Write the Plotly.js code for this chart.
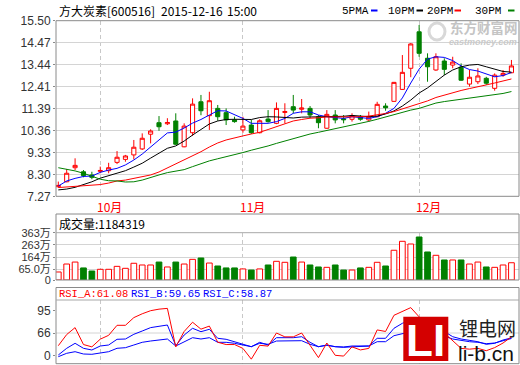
<!DOCTYPE html>
<html><head><meta charset="utf-8">
<script src="https://cdn.plot.ly/plotly-3.0.1.min.js"></script>
<style>html,body{margin:0;padding:0;background:#fff;}#chart{width:520px;height:365px;}</style>
</head><body><div id="chart"></div>
<script>
// ---- data ----
const dates = ["2015-09-24","2015-09-25","2015-09-28","2015-09-29","2015-09-30",
"2015-10-08","2015-10-09","2015-10-12","2015-10-13","2015-10-14","2015-10-15","2015-10-16","2015-10-19","2015-10-20","2015-10-21","2015-10-22","2015-10-23","2015-10-26","2015-10-27","2015-10-28","2015-10-29","2015-10-30",
"2015-11-02","2015-11-03","2015-11-04","2015-11-05","2015-11-06","2015-11-09","2015-11-10","2015-11-11","2015-11-12","2015-11-13","2015-11-16","2015-11-17","2015-11-18","2015-11-19","2015-11-20","2015-11-23","2015-11-24","2015-11-25","2015-11-26","2015-11-27","2015-11-30",
"2015-12-01","2015-12-02","2015-12-03","2015-12-04","2015-12-07","2015-12-08","2015-12-09","2015-12-10","2015-12-11","2015-12-14","2015-12-15","2015-12-16"];
const openP  = [7.72,7.95,8.61,8.42,8.27,8.44,8.47,8.86,9.00,9.21,9.49,10.18,10.72,10.67,10.80,9.59,10.25,11.70,11.05,11.39,11.19,10.85,10.38,10.61,10.25,10.89,10.69,11.20,11.47,11.35,11.39,11.00,10.46,11.08,10.90,10.88,11.00,10.85,11.00,11.50,11.72,12.28,13.27,14.98,13.74,13.19,13.61,13.42,13.32,12.53,12.64,12.80,12.33,12.95,13.06];
const highP  = [7.96,8.55,9.05,8.50,8.42,8.66,8.84,9.39,9.21,9.91,10.22,10.41,11.03,10.93,11.16,10.69,11.86,12.02,12.17,11.55,11.39,11.00,11.00,10.85,10.88,11.31,11.67,11.63,12.02,11.83,11.50,11.08,11.31,11.31,11.08,11.16,11.08,11.24,11.70,11.63,12.63,13.89,14.45,15.30,13.97,13.97,13.74,13.81,13.50,13.19,13.27,12.87,13.03,13.19,13.66];
const lowP   = [7.67,7.93,8.50,8.16,8.07,8.35,8.35,8.78,8.89,9.00,9.44,9.75,10.34,10.61,9.68,9.57,10.10,11.07,10.38,10.81,10.61,10.72,10.25,10.19,10.22,10.72,10.65,10.69,11.16,11.16,10.93,10.46,10.44,10.69,10.69,10.77,10.81,10.77,10.98,11.28,11.70,12.26,12.85,13.81,12.64,13.15,12.95,13.27,12.68,12.41,12.53,12.49,12.22,12.87,13.04];
const closeP = [7.78,8.35,8.72,8.24,8.16,8.48,8.61,9.10,9.16,9.57,9.99,10.33,10.53,10.73,9.71,10.56,11.59,11.28,11.75,11.00,10.85,10.77,10.56,10.25,10.81,10.77,11.39,11.24,11.31,11.41,11.08,10.72,11.11,10.85,10.86,11.05,10.88,11.00,11.58,11.42,12.61,13.08,14.41,13.97,13.34,13.81,13.22,13.56,12.71,12.85,12.91,12.57,12.95,13.03,13.38];
const ma5  = [7.75,7.99,8.11,8.20,8.22,8.39,8.50,8.58,8.74,8.97,9.25,9.58,9.91,10.24,10.28,10.47,10.70,10.87,11.08,11.28,11.27,11.08,10.92,10.69,10.69,10.69,10.77,10.92,11.16,11.23,11.23,11.08,11.00,10.95,10.92,11.00,10.95,10.92,11.00,11.16,11.39,11.88,12.58,13.23,13.70,13.81,13.78,13.63,13.38,13.21,13.14,13.00,12.87,12.93,13.07];
const ma10 = [7.57,7.61,7.69,7.82,7.95,8.12,8.24,8.38,8.47,8.64,8.82,9.06,9.28,9.52,9.63,9.86,10.14,10.42,10.66,10.80,10.87,10.88,10.88,10.87,10.96,11.00,10.99,10.97,10.94,10.98,10.98,10.99,11.00,11.01,11.02,11.06,11.03,11.00,11.03,11.13,11.27,11.50,11.78,12.11,12.35,12.67,12.95,13.19,13.34,13.42,13.45,13.34,13.22,13.12,13.09];
const ma20 = [7.68,7.71,7.73,7.75,7.78,7.82,7.89,7.99,8.03,8.10,8.17,8.27,8.41,8.60,8.78,8.95,9.16,9.36,9.58,9.77,9.91,9.99,10.10,10.19,10.27,10.40,10.53,10.66,10.80,10.87,10.93,10.95,10.99,10.99,10.99,10.99,11.00,11.03,11.08,11.15,11.24,11.36,11.48,11.60,11.74,11.90,12.02,12.13,12.23,12.32,12.42,12.49,12.58,12.67,12.77];
const ma30 = [8.61,8.55,8.46,8.35,8.22,8.07,8.00,7.99,7.94,7.95,8.03,8.16,8.27,8.38,8.46,8.52,8.66,8.80,8.93,9.03,9.12,9.21,9.32,9.43,9.52,9.63,9.75,9.86,9.99,10.10,10.19,10.27,10.35,10.45,10.54,10.61,10.69,10.78,10.88,10.99,11.08,11.20,11.31,11.39,11.52,11.64,11.71,11.76,11.81,11.88,11.92,11.97,12.02,12.09,12.18];
const volume = [43,108,124,76,51,65,65,89,73,114,100,100,124,84,124,108,146,157,116,92,76,76,68,59,68,100,130,122,165,124,100,84,81,100,59,59,76,81,122,92,220,293,271,328,206,179,141,141,141,108,124,84,81,100,118.4319]; // 万
const rsiA = [49.5,64,73,51,48,58,63,76,76,86,91,95,97,98,48,68,80,71,75,54,51,51,46,32,50,49,66,61,61,66,50,34,53,37,36,48,44,46,70,68,89,94,99,87,72,76,66,57,46,45,46,43,47,53,61.08];
const rsiB = [37.4,46.1,52.6,46.1,43.9,49.1,50.4,57.8,58.2,64.3,68.6,73,74.7,76.4,49.5,63.4,72.1,67.7,70.8,59.1,57.8,54.7,51.3,48.2,53.9,50.4,59.9,59.9,59.9,61.2,53.9,48.2,50.4,48.2,47.8,49.1,48.7,49.1,59.1,59.1,72.1,78.6,82.9,79.9,74,72,68,61.2,58.2,56.9,54.7,51.3,52.6,56.9,59.65];
const rsiC = [35.2,39.6,41.7,38.7,38.3,40.4,41.7,46.1,46.9,50.4,53.9,55.6,56.9,58.2,49.1,54.7,59.9,58.2,59.9,53.9,53.9,52.6,50.4,48.2,52.6,51.3,55.6,55.6,55.6,56.0,51.3,48.2,50.0,48.2,47.4,48.2,48.2,49.1,54.7,54.7,62.5,65.1,67.7,66,64,64,62,58.2,56.0,54.7,53.9,52.1,53.0,55.6,58.87];
const priceTicks = [7.27,8.30,9.33,10.36,11.39,12.41,13.44,14.47,15.50];
const volTickVals = [65,164,263,363];
const volTickText = ["65.0万","164万","263万","363万"];
const volBottomLabel = "0";
const rsiTickVals = [95,66,36.5];
const rsiTickText = ["95","66","0"];
const stockName = "方大炭素[600516]";
const stamp = ["2015-12-16","15:00"];
const volumeLabel = "成交量:1184319";

// ---- geometry helpers ----
const H = 365, PL = 56, PR = 519;
const py = y => 1 - y / H;
const px = x => (x - PL) / (PR - PL);

const idx = dates.map((d, i) => i);
const monthIdx = [], monthText = [];
dates.forEach((d, i) => {
  if (i > 0 && d.slice(5, 7) !== dates[i - 1].slice(5, 7)) {
    monthIdx.push(i); monthText.push(parseInt(d.slice(5, 7), 10) + "月");
  }
});
const up = idx.filter(i => closeP[i] >= openP[i]);
const dn = idx.filter(i => closeP[i] < openP[i]);
const VMIN = -22.1;

const RED = "#ff0000", GREEN = "#008000", BLUE = "#0000ff";
const traces = [
  {type: "candlestick", x: idx, open: openP, high: highP, low: lowP, close: closeP,
   xaxis: "x", yaxis: "y", whiskerwidth: 0, hoverinfo: "skip",
   increasing: {line: {color: RED, width: 1}, fillcolor: "#ffffff"},
   decreasing: {line: {color: GREEN, width: 1}, fillcolor: GREEN}},
  {type: "scatter", mode: "lines", x: idx, y: ma5, line: {color: BLUE, width: 1}, xaxis: "x", yaxis: "y"},
  {type: "scatter", mode: "lines", x: idx, y: ma10, line: {color: "#000000", width: 1}, xaxis: "x", yaxis: "y"},
  {type: "scatter", mode: "lines", x: idx, y: ma20, line: {color: RED, width: 1}, xaxis: "x", yaxis: "y"},
  {type: "scatter", mode: "lines", x: idx, y: ma30, line: {color: GREEN, width: 1}, xaxis: "x", yaxis: "y"},
  {type: "bar", x: up, y: up.map(i => volume[i] - VMIN), base: VMIN, width: 0.68,
   marker: {color: "#ffffff", line: {color: RED, width: 1}}, xaxis: "x", yaxis: "y2"},
  {type: "bar", x: dn, y: dn.map(i => volume[i] - VMIN), base: VMIN, width: 0.68,
   marker: {color: GREEN, line: {color: GREEN, width: 1}}, xaxis: "x", yaxis: "y2"},
  {type: "scatter", mode: "lines", x: idx, y: rsiC, line: {color: BLUE, width: 1}, xaxis: "x", yaxis: "y3"},
  {type: "scatter", mode: "lines", x: idx, y: rsiB, line: {color: BLUE, width: 1}, xaxis: "x", yaxis: "y3"},
  {type: "scatter", mode: "lines", x: idx, y: rsiA, line: {color: RED, width: 1}, xaxis: "x", yaxis: "y3"}
];

const tickFont = {family: "Liberation Sans, Noto Sans CJK SC", size: 12, color: "#333333"};
const BORDER = "#8a8a8a", GRID = "#d4d4d4";
const yCommon = {zeroline: false, showline: false, ticks: "outside", ticklen: 2, tickcolor: BORDER,
  tickfont: tickFont, fixedrange: true, gridcolor: GRID, gridwidth: 1};

const shapes = [
  {type: "line", xref: "paper", yref: "y3", x0: 0, x1: 1, y0: 66, y1: 66, line: {color: GRID, width: 1}, layer: "below"},
  {type: "rect", xref: "paper", yref: "paper", x0: 0, x1: 1, y0: py(196.3), y1: py(20.7), line: {color: BORDER, width: 1}},
  {type: "rect", xref: "paper", yref: "paper", x0: 0, x1: 1, y0: py(280), y1: py(214), line: {color: BORDER, width: 1}},
  {type: "line", xref: "paper", yref: "paper", x0: 0, x1: 1, y0: py(232.7), y1: py(232.7), line: {color: "#a8a8a8", width: 1}},
  {type: "rect", xref: "paper", yref: "paper", x0: 0, x1: 1, y0: py(363.7), y1: py(287.5), line: {color: BORDER, width: 1}},
  {type: "line", xref: "paper", yref: "paper", x0: 0, x1: 1, y0: py(300), y1: py(300), line: {color: "#a8a8a8", width: 1}},
  // legend swatches
  {type: "line", xref: "paper", yref: "paper", x0: px(371), x1: px(377.5), y0: py(10.5), y1: py(10.5), line: {color: BLUE, width: 2}},
  {type: "line", xref: "paper", yref: "paper", x0: px(416.5), x1: px(423), y0: py(10.5), y1: py(10.5), line: {color: "#000000", width: 2}},
  {type: "line", xref: "paper", yref: "paper", x0: px(454.5), x1: px(461), y0: py(10.5), y1: py(10.5), line: {color: RED, width: 2}},
  {type: "line", xref: "paper", yref: "paper", x0: px(508), x1: px(514.5), y0: py(10.5), y1: py(10.5), line: {color: GREEN, width: 2}},
  // eastmoney watermark swirl (light grey)
  {type: "circle", xref: "paper", yref: "paper", x0: px(429), x1: px(445), y0: py(40), y1: py(23), line: {color: "#d8d8d8", width: 3}, layer: "below"},
  // li-b.cn logo block
  {type: "rect", xref: "paper", yref: "paper", x0: px(403.3), x1: px(448.3), y0: py(361), y1: py(316.7), fillcolor: "#d40000", line: {width: 0}}
];

const ann = (x, y, text, font, xanchor) => ({xref: "paper", yref: "paper", x: px(x), y: py(y), text: text,
  showarrow: false, xanchor: xanchor || "left", yanchor: "middle", font: font});
const mono = (size, color) => ({family: "Liberation Mono, DejaVu Sans Mono", size: size, color: color});
const cjk = (size, color) => ({family: "Noto Sans CJK SC", size: size, color: color});

const annotations = [
  ann(56.5, 10.5, stockName, cjk(12, "#000")),
  ann(158.5, 10.5, stamp[0], cjk(12, "#000")),
  ann(224.5, 10.5, stamp[1], cjk(12, "#000")),
  ann(339.5, 10.5, "5PMA", mono(11, "#000")),
  ann(385.5, 10.5, "10PM", mono(11, "#000")),
  ann(424.5, 10.5, "20PM", mono(11, "#000")),
  ann(472.5, 10.5, "30PM", mono(11, "#000")),
  ann(57, 223.5, volumeLabel, cjk(12, "#000")),
  ann(57, 294, "RSI_A:" + rsiA[rsiA.length - 1].toFixed(2), mono(10.5, RED)),
  ann(129, 294, "RSI_B:" + rsiB[rsiB.length - 1].toFixed(2), mono(10.5, BLUE)),
  ann(201, 294, "RSI_C:" + rsiC[rsiC.length - 1].toFixed(2), mono(10.5, BLUE)),
  // watermarks / logos
  ann(447.5, 27.5, "<b>东方财富网</b>", cjk(13.5, "#c4c4c4")),
  ann(447, 41.5, "<b><i>eastmoney.com</i></b>", {family: "Liberation Sans", size: 9, color: "#cacaca"}),
  ann(425.8, 340, "<b>LI</b>", {family: "Liberation Sans", size: 44, color: "#ffffff"}, "center"),
  ann(457, 327.5, "锂电网", cjk(19, "#222222")),
  ann(456, 353.5, "li-b.cn", {family: "Liberation Sans", size: 21, color: "#111111"})
];
// month labels beside the dashed month lines
monthIdx.forEach((m, k) => annotations.push({xref: "x", yref: "paper", x: m, y: py(206), xanchor: "left", yanchor: "middle",
  xshift: -5, text: monthText[k], showarrow: false, font: cjk(12, RED)}));

const layout = {
  width: 520, height: 365, margin: {l: PL, r: 520 - PR, t: 0, b: 0},
  paper_bgcolor: "#ffffff", plot_bgcolor: "#ffffff", showlegend: false, hovermode: false,
  xaxis: {domain: [0, 1], anchor: "y", range: [-0.274, 54.9], tickvals: monthIdx, showticklabels: false,
    ticks: "", showgrid: true, gridcolor: "#c8c8c8", griddash: "4px,3px", gridwidth: 1,
    zeroline: false, showline: false, rangeslider: {visible: false}, fixedrange: true},
  yaxis: Object.assign({}, yCommon, {domain: [py(196.3), py(20.7)], range: [7.27, 15.50],
    tickvals: priceTicks, ticktext: priceTicks.map(v => v.toFixed(2)), showgrid: true, anchor: "x"}),
  yaxis2: Object.assign({}, yCommon, {domain: [py(280), py(232.7)], range: [VMIN, 363],
    tickvals: [VMIN].concat(volTickVals), ticktext: [volBottomLabel].concat(volTickText), showgrid: true, anchor: "x",
    tickfont: {family: "Liberation Sans, Noto Sans CJK SC", size: 11, color: "#333333"}}),
  yaxis3: Object.assign({}, yCommon, {domain: [py(363.7), py(300)], range: [26.1, 108.9],
    tickvals: rsiTickVals, ticktext: rsiTickText, showgrid: false, anchor: "x"}),
  shapes: shapes, annotations: annotations, barmode: "overlay"
};

Plotly.newPlot("chart", traces, layout, {staticPlot: true, displayModeBar: false});
</script></body></html>
